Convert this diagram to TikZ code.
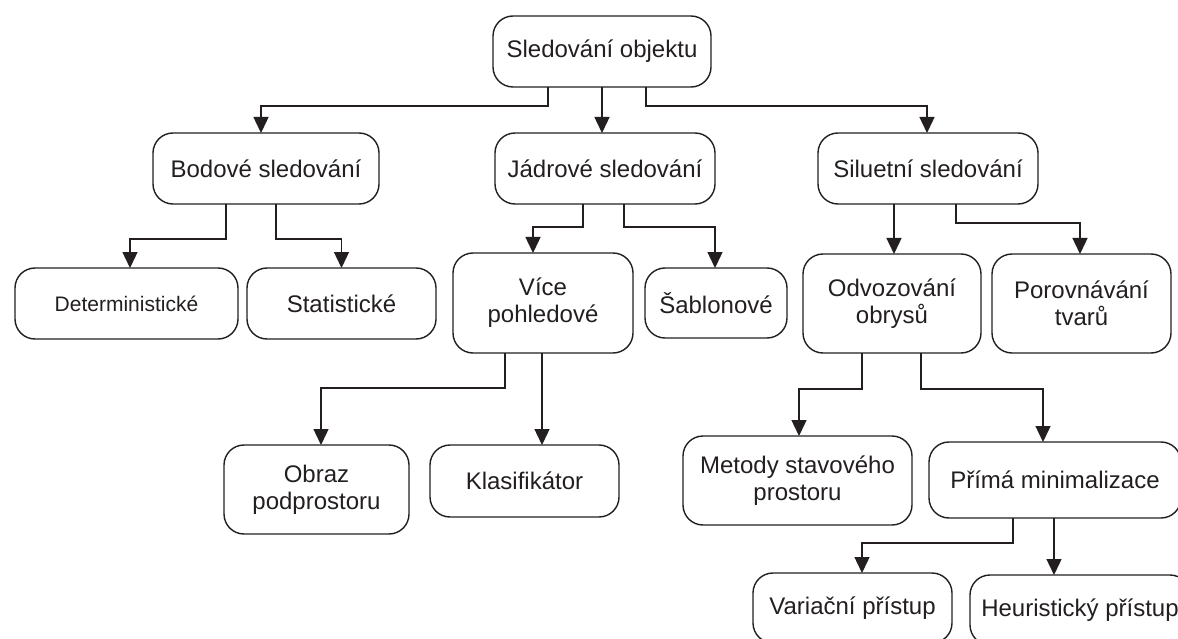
\documentclass[tikz,border=0pt]{standalone}
\usepackage{fontspec}
\setmainfont{Liberation Sans}
\usetikzlibrary{arrows.meta}
\definecolor{ink}{RGB}{35,31,32}
\tikzset{
  box/.style={draw=ink, line width=1.4pt, rounded corners=20pt, fill=white,
    inner sep=0pt, outer sep=0pt, align=center, text=ink,
    font=\fontsize{24}{27}\selectfont},
  arr/.style={draw=ink, line width=1.4pt, -{Triangle[length=16pt,width=15pt]}}
}
\begin{document}
\begin{tikzpicture}[x=1pt,y=-1pt]
\useasboundingbox (0,0) rectangle (1178,639);
\clip (0,0) rectangle (1178,639);
\fill[white] (0,0) rectangle (1178,639);
% nodes
\node[box, minimum width=218pt, minimum height=71pt] (top) at (602,51.5) {Sledování objektu};
\node[box, minimum width=226pt, minimum height=71pt] (bod) at (266,168.5) {Bodové sledování};
\node[box, minimum width=220pt, minimum height=71pt] (jad) at (605,168.5) {Jádrové sledování};
\node[box, minimum width=220pt, minimum height=71pt] (sil) at (928,168.5) {Siluetní sledování};
\node[box, minimum width=223pt, minimum height=71pt, font=\fontsize{21}{25}\selectfont] (det) at (126.5,303.5) {Deterministické};
\node[box, minimum width=189pt, minimum height=71pt] (stat) at (341.5,303.5) {Statistické};
\node[box, minimum width=180pt, minimum height=100pt] (vice) at (543,303) {Více\\pohledové};
\node[box, minimum width=142pt, minimum height=70pt] (sab) at (716,303) {Šablonové};
\node[box, minimum width=178pt, minimum height=99pt] (odv) at (892,303.5) {Odvozování\\obrysů};
\node[box, minimum width=179pt, minimum height=99pt] (por) at (1081.5,303.5) {Porovnávání\\tvarů};
\node[box, minimum width=185pt, minimum height=89pt] (obr) at (316.5,489.5) {Obraz\\podprostoru};
\node[box, minimum width=189pt, minimum height=72pt] (kla) at (524.5,481) {Klasifikátor};
\node[box, minimum width=229pt, minimum height=89pt] (met) at (797.5,480.5) {Metody stavového\\prostoru};
\node[box, minimum width=252pt, minimum height=76pt] (pri) at (1055,480) {Přímá minimalizace};
\node[box, minimum width=199pt, minimum height=70pt] (var) at (852.5,608) {Variační přístup};
\node[box, minimum width=220pt, minimum height=70pt] (heu) at (1080,610) {Heuristický přístup};
% connectors
\draw[arr] ([xshift=-54pt]top.south) -- ++(0,19) -| ([xshift=-5pt]bod.north);
\draw[arr] (top.south) -- (top.south |- jad.north);
\draw[arr] ([xshift=44pt]top.south) -- ++(0,19) -| ([xshift=-1pt]sil.north);
\draw[arr] ([xshift=-40pt]bod.south) -- ++(0,35) -| ([xshift=3.5pt]det.north);
\draw[arr] ([xshift=10pt]bod.south) -- ++(0,35) -| (stat.north);
\draw[arr] ([xshift=-22pt]jad.south) -- ++(0,23) -| ([xshift=-10pt]vice.north);
\draw[arr] ([xshift=19pt]jad.south) -- ++(0,23) -| ([xshift=-1pt]sab.north);
\draw[arr] ([xshift=2pt]odv.north |- sil.south) -- ([xshift=2pt]odv.north);
\draw[arr] ([xshift=28pt]sil.south) -- ++(0,19) -| ([xshift=-1.5pt]por.north);
\draw[arr] ([xshift=-38pt]vice.south) -- ++(0,35) -| ([xshift=4.5pt]obr.north);
\draw[arr] ([xshift=-1pt]vice.south) -- ([xshift=-1pt]vice.south |- kla.north);
\draw[arr] ([xshift=-30pt]odv.south) -- ++(0,36) -| ([xshift=1.5pt]met.north);
\draw[arr] ([xshift=29pt]odv.south) -- ++(0,36) -| ([xshift=-12pt]pri.north);
\draw[arr] ([xshift=-42pt]pri.south) -- ++(0,25) -| ([xshift=9.5pt]var.north);
\draw[arr] ([xshift=-1pt]pri.south) -- ([xshift=-1pt]pri.south |- heu.north);
\end{tikzpicture}
\end{document}
